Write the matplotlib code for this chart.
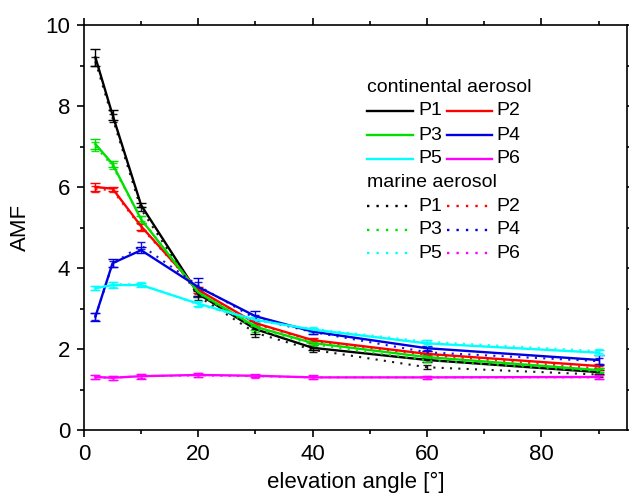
import matplotlib.pyplot as plt
from matplotlib.ticker import MultipleLocator
from matplotlib.lines import Line2D

plt.rcParams['font.family'] = ['Liberation Sans', 'DejaVu Sans']

elev = [2, 5, 10, 20, 30, 40, 60, 90]
names = ['P1', 'P2', 'P3', 'P4', 'P5', 'P6']
colors = ['#000000', '#ff0000', '#00e000', '#0000e0', '#00ffff', '#ff00ff']

# continental aerosol
cont = {
    'P1': [9.20, 7.78, 5.55, 3.36, 2.49, 2.03, 1.73, 1.43],
    'P2': [6.00, 5.96, 5.03, 3.46, 2.64, 2.22, 1.88, 1.58],
    'P3': [7.06, 6.57, 5.20, 3.40, 2.55, 2.15, 1.80, 1.48],
    'P4': [2.80, 4.12, 4.44, 3.53, 2.81, 2.43, 2.02, 1.73],
    'P5': [3.50, 3.58, 3.58, 3.12, 2.72, 2.48, 2.14, 1.91],
    'P6': [1.31, 1.29, 1.33, 1.36, 1.34, 1.30, 1.30, 1.31],
}
cont_err = {
    'P1': [0.22, 0.12, 0.05, 0.08, 0.12, 0.06, 0.06, 0.05],
    'P2': [0.10, 0.05, 0.08, 0.08, 0.08, 0.06, 0.06, 0.05],
    'P3': [0.12, 0.08, 0.08, 0.08, 0.08, 0.06, 0.06, 0.05],
    'P4': [0.10, 0.10, 0.08, 0.22, 0.12, 0.06, 0.06, 0.12],
    'P5': [0.05, 0.08, 0.05, 0.06, 0.06, 0.05, 0.08, 0.06],
    'P6': [0.05, 0.05, 0.06, 0.05, 0.04, 0.05, 0.04, 0.04],
}
# marine aerosol
marine = {
    'P1': [9.10, 7.70, 5.45, 3.30, 2.40, 1.98, 1.55, 1.37],
    'P2': [5.95, 5.92, 5.00, 3.45, 2.62, 2.20, 1.85, 1.52],
    'P3': [7.00, 6.52, 5.22, 3.38, 2.50, 2.12, 1.72, 1.45],
    'P4': [2.80, 4.10, 4.56, 3.56, 2.75, 2.42, 1.92, 1.70],
    'P5': [3.50, 3.60, 3.60, 3.10, 2.70, 2.50, 2.18, 1.95],
    'P6': [1.30, 1.29, 1.33, 1.35, 1.33, 1.30, 1.30, 1.30],
}
marine_err = {
    'P1': [0.12, 0.10, 0.05, 0.08, 0.10, 0.05, 0.05, 0.05],
    'P2': [0.08, 0.05, 0.08, 0.08, 0.08, 0.06, 0.05, 0.05],
    'P3': [0.10, 0.08, 0.06, 0.08, 0.08, 0.05, 0.05, 0.05],
    'P4': [0.08, 0.08, 0.08, 0.10, 0.08, 0.06, 0.05, 0.08],
    'P5': [0.05, 0.06, 0.05, 0.05, 0.05, 0.05, 0.05, 0.05],
    'P6': [0.05, 0.05, 0.05, 0.05, 0.04, 0.04, 0.04, 0.04],
}

dots = (0, (1, 3))

fig = plt.figure(figsize=(6.29, 4.96), dpi=100)
ax = fig.add_axes([0.1335, 0.133, 0.8635, 0.8165])

for name, c in zip(names, colors):
    ax.errorbar(elev, marine[name], yerr=marine_err[name], color=c, lw=1.5,
                linestyle=dots, capsize=3, elinewidth=1, ecolor=c, alpha=0.9)
    ax.errorbar(elev, cont[name], yerr=cont_err[name], color=c, lw=1.7,
                capsize=3.5, elinewidth=1, ecolor=c)

ax.set_xlim(0, 95)
ax.set_ylim(0, 10)
ax.xaxis.set_major_locator(MultipleLocator(20))
ax.xaxis.set_minor_locator(MultipleLocator(10))
ax.yaxis.set_major_locator(MultipleLocator(2))
ax.yaxis.set_minor_locator(MultipleLocator(1))
ax.tick_params(which='both', direction='out', top=True, right=True, labelsize=16, width=1.2)
ax.tick_params(which='major', length=5, pad=5)
ax.tick_params(which='minor', length=3)
for s in ax.spines.values():
    s.set_linewidth(1.2)
ax.set_xlabel('elevation angle [°]', fontsize=16, labelpad=5)
ax.set_ylabel('AMF', fontsize=16, labelpad=10)

# legend, drawn in axes fraction
tr = ax.transAxes
fs = 14
col_x = [(0.521, 0.606, 0.615), (0.668, 0.751, 0.760)]
ax.text(0.521, 0.847, 'continental aerosol', transform=tr, fontsize=fs, va='center')
ax.text(0.521, 0.612, 'marine aerosol', transform=tr, fontsize=fs, va='center')
rows_cont = [0.788, 0.728, 0.670]
rows_mar = [0.553, 0.494, 0.437]
for i, (name, c) in enumerate(zip(names, colors)):
    x0, x1, xt = col_x[i % 2]
    for ry, ls in ((rows_cont[i // 2], '-'), (rows_mar[i // 2], dots)):
        ax.add_line(Line2D([x0, x1], [ry, ry], transform=tr, color=c, lw=1.7, linestyle=ls))
        ax.text(xt, ry, name, transform=tr, fontsize=fs, va='center')

fig.savefig('out.png', dpi=100)
